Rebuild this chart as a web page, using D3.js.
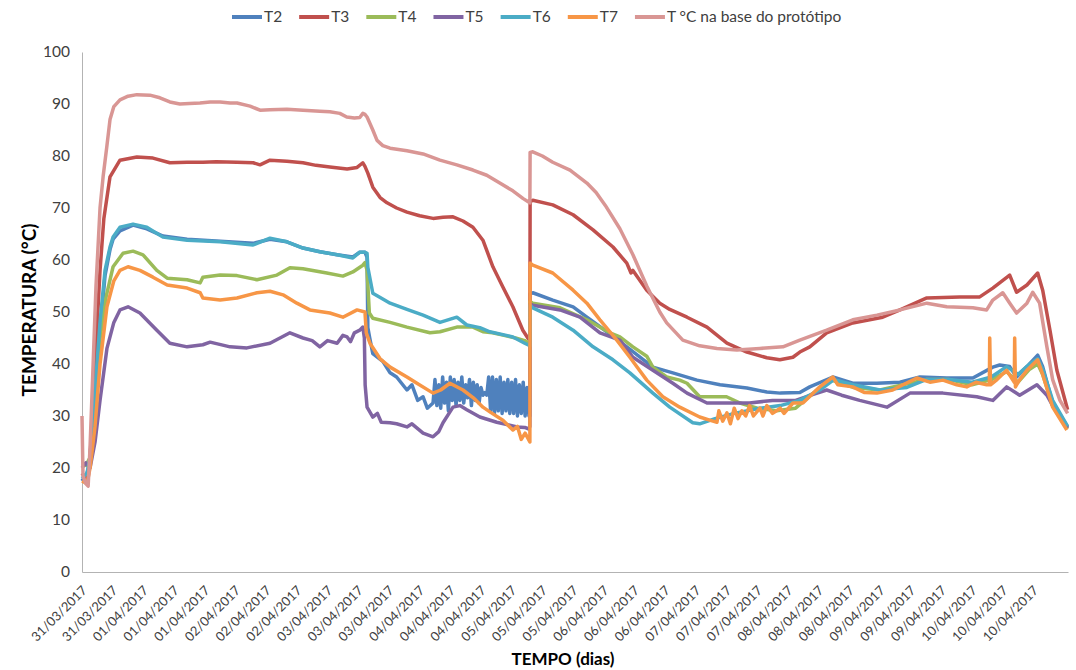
<!DOCTYPE html>
<html>
<head>
<meta charset="utf-8">
<script src="https://cdn.jsdelivr.net/npm/d3@7"></script>
<style>
  body { margin: 0; background: #fff; }
  svg text { font-family: Lato, "Open Sans", sans-serif; }
</style>
</head>
<body>
<div id="chart"></div>
<script>
// readings are [hours since start, temperature in °C]
const t2 = [[0,17.5],[1.3,19],[2.1,21],[3.4,33],[4.7,46],[6,57],[7.3,62],[8.1,64],[9.9,65.6],[13.3,66.7],[16.9,66],[21.1,64.6],[27.4,64],[36,63.6],[44.6,63.2],[49,64],[53.4,63.5],[57.6,62.3],[62,61.6],[66.5,61],[70.6,60.6],[72.4,61.5],[73.75,61.5],[74.3,60.5],[74.5,47],[75,45],[75.8,42],[78.4,40.5],[80.3,38.3],[82,37.5],[84.7,35],[86,36],[87.5,33],[88.9,33.7],[90,31.5],[91.5,32.5],
  [92,37],[92.5,32],[93,36],[93.5,31.5],[94,37.5],[94.5,32.5],[95,36.5],[95.5,31],[96,37.5],[96.5,33],[97,37],[97.5,32],[98,36.5],[98.5,33],[99,37.5],[99.5,32.5],[100,36],[100.5,33.5],[101,37],[101.5,32],[102,36.5],[102.5,33],[103,36],[103.5,32.5],[104,35.5],[104.5,34],[105,34.5],[105.5,34],[106,37.5],[106.5,31],[107,37.5],[107.5,30.5],[108,37],[108.5,31],[109,37.5],[109.5,30.5],[110,36.5],[110.5,31],[111,37],[111.5,30.5],[112,36.5],[112.5,30.5],[113,37],[113.5,30],[114,36],[114.5,30.5],[115,36.5],[115.5,30],[116,35.5],[116.5,30],
  [116.74,30],[116.8,53.5],[117.5,53.7],[122.7,52.3],[128,51],[131.6,49],[136.8,46.2],[142,43.3],[148.8,39.4],[154,38.3],[160.3,36.9],[166.3,36],[173.3,35.4],[178.5,34.6],[182,34.4],[187.1,34.5],[189.7,35.6],[195.7,37.5],[200.9,36.3],[207.2,36.3],[213.2,36.5],[218.4,37.5],[225.4,37.3],[232.2,37.3],[237.4,39.4],[239.2,39.8],[241.8,39.5],[243.6,37.5],[246.3,39.5],[249.1,41.7],[250.4,39.5],[253,32.5],[256.9,27.9]];

const t3 = [[0,19],[1,18],[1.6,18],[2.35,25],[3.4,40],[4.7,58],[5.7,68],[7.3,76],[9.9,79.2],[14.3,79.8],[18.5,79.6],[22.9,78.7],[27.4,78.8],[31.5,78.8],[35,78.9],[40.4,78.8],[44.6,78.7],[46.4,78.3],[49,79.2],[53.4,79],[57.6,78.7],[61,78.2],[64.6,77.9],[69.1,77.5],[71.7,77.8],[73.2,78.7],[73.75,78],[74.5,76.7],[75.8,74],[77.7,72],[79.5,71],[82,70],[84.7,69.2],[88,68.5],[91.5,68],[94.1,68.2],[96.7,68.3],[99.3,67.5],[101.9,66.3],[104.5,63.8],[107.1,58.7],[109.7,54.8],[112.3,51],[114.9,46.5],[116.2,45],[116.74,44.5],
  [116.8,71.2],[117.5,71.5],[122.7,70.6],[128,68.7],[133.2,65.8],[138.4,62.5],[142,59.4],[143.1,57.5],[143.6,58],[147.2,54.2],[150.6,51.7],[153.2,50.5],[157.7,49],[162.9,47.1],[168.1,44],[173.3,42.3],[178.5,41.2],[181.9,40.8],[185.3,41.3],[187.1,42.3],[189.7,43.3],[194.1,46],[200.9,47.9],[208.7,49],[213.2,50.4],[220.2,52.7],[228.8,52.9],[234,52.9],[237.4,54.6],[241.8,57.1],[243.6,53.8],[246.3,55.2],[249.1,57.5],[250.4,54.2],[252.3,46.5],[254.1,38.8],[256.9,31.2]];

const t4 = [[0,21],[1,20.5],[2.1,22],[3.4,32],[4.7,45],[6.3,53],[8.1,58.7],[10.7,61.3],[13.3,61.7],[15.9,61],[19.5,58],[22.2,56.5],[27.4,56.2],[30.8,55.6],[31.5,56.7],[36,57.1],[40.4,57],[45.6,56.2],[50.8,57.1],[54.2,58.5],[57.6,58.3],[63.8,57.5],[68,56.9],[70.6,57.7],[73.2,59],[73.75,59.5],[74.3,58],[74.9,49.8],[75.8,48.8],[80.3,48],[84.7,47.1],[90.7,46],[93.3,46.2],[97.7,47.1],[101.9,47.1],[104.5,46.2],[107,46],[110,45.5],[113,45],[115.4,44.5],[116.5,44],[116.74,44],
  [116.8,52],[117.5,51.7],[124.6,50.8],[131.6,48.5],[137.6,46],[140.2,45.2],[143.6,43.3],[147.2,41.5],[148.8,39.4],[152.4,37.5],[155.8,36.9],[157.7,36.3],[161,33.7],[162.9,33.7],[168,33.7],[171.5,32.5],[176,31.5],[181,31],[186,31.5],[190,34],[195,37],[201,35.5],[208,35],[214,36],[220,37],[226,37],[232,36],[237,37],[241,38.5],[244,36.5],[247,39],[249.1,40],[250.4,38],[253,32],[256.9,27.5]];

const t5 = [[0,20],[1,21],[2.1,20],[3.4,25],[4.7,33],[6.5,43],[8.3,48],[9.9,50.4],[12,51],[15.1,49.8],[19.5,46.5],[22.9,44],[27.4,43.3],[31.5,43.7],[33.4,44.2],[38.6,43.3],[43,43.1],[49,44],[54.2,46],[57.6,45],[60,44.5],[62,43.3],[64,44.5],[66.5,44],[68,45.5],[69.1,45.2],[70,44.3],[71,46],[72.4,46.5],[73.2,47.1],[73.6,45],[73.8,36],[74.3,31.7],[75.8,29.8],[77,30.5],[78,28.8],[80.3,28.7],[82,28.5],[84.7,27.9],[86,28.5],[88.9,26.7],[91.5,26],[93,27],[94.1,28.7],[96.7,31.7],[98.5,32],[100.3,31.2],[103.7,29.8],[108.1,28.8],[113.4,27.9],[115.4,27.8],[116.5,27.5],[116.74,28],
  [116.8,51.5],[117.5,51.3],[124.6,50.4],[129.8,49],[135,46],[140.2,44.6],[143.6,41.3],[148.8,38.8],[154,36.3],[157.7,34.4],[162.9,32.5],[168,32.5],[174,32.5],[180,33],[186,33],[190,34],[194.1,35],[198,34],[202.7,33],[209.8,31.7],[215.8,34.4],[224.4,34.4],[233.2,33.7],[237.4,33],[241,35.6],[244.4,34],[248.9,36],[251.5,34],[253,32],[256.9,27.7]];

const t6 = [[0,18],[1.3,19],[2.1,22],[3.4,35],[4.7,48],[6,58],[7.3,62.5],[8.1,64.4],[9.9,66.3],[13.3,66.9],[16.9,66.3],[21.1,64.4],[27.4,63.8],[36,63.5],[44.6,62.9],[49,64.2],[53.4,63.5],[57.6,62.3],[62,61.6],[66.5,61],[70.6,60.4],[72.4,61.5],[73.75,61.5],[74.3,61.3],[74.5,58.6],[75.8,53.6],[78.4,52.5],[80.3,51.7],[84.7,50.5],[88.9,49.4],[93.3,48],[97.7,49],[100.3,47.5],[103.7,47],[106.3,46.2],[112.3,45.2],[115.4,44],[116.74,43.5],
  [116.8,51.3],[117.5,50.8],[122.7,49],[128,46.5],[133.2,43.3],[138.4,40.8],[142.8,38.3],[148.8,34.4],[153.2,31.7],[159.2,28.7],[161,28.5],[165,29.5],[170,30.5],[176.7,31.5],[182,32],[187,33],[192.3,35],[196,37],[201,36],[208,35],[215,35.5],[220,37],[226,37],[232,36.5],[237,37.5],[241,39.5],[244,38],[247,40],[249.1,41],[250.4,39],[253,33],[256.9,28]];

const t7 = [[0,17.5],[1.3,17],[2.1,20],[3.4,28],[4.7,40],[6.5,51],[8.3,56],[9.9,58],[12,58.7],[15.1,58],[18.5,56.7],[22.2,55.2],[27.4,54.6],[30.8,53.7],[31.5,52.7],[36,52.3],[40.4,52.7],[45.6,53.7],[49,54],[52.4,53.3],[56,51.7],[59.4,50.4],[64.6,49.8],[68,49],[71.7,50.4],[73.75,50],[74.1,46],[75.05,44],[77.7,41],[80.3,39.4],[84.7,37.5],[87.3,36.3],[91.5,34.4],[93.5,35],[95.9,36.3],[99.3,35],[102,33.5],[104.5,31.7],[106.5,30.7],[109.7,29.2],[112.3,27.3],[113.5,28],[114.5,25.5],[115.5,26.7],[116.74,25],
  [116.8,59.4],[117.5,59],[122.7,57.5],[128,54.2],[131.6,51.7],[135,48.5],[139.4,44.6],[142.8,41.3],[147.2,36.9],[151.4,33.7],[155.8,31.7],[161,29.8],[163.6,29.2],[165.5,28.8],[166,31],[167,29],[168.1,30.6],[169,28.5],[170,31.5],[171,29.5],[172,31],[173,30],[174,32],[175,30],[176.7,31.5],[177.5,30],[178.5,32],[180,30.5],[182,31.5],[183,30.5],[185.3,32.5],[187.9,32.5],[190,34],[192.3,35.6],[195.7,37.5],[197,36],[200.9,35.6],[204,34.5],[207.2,34.4],[211.3,35],[214,36],[217.6,37.3],[221,36.5],[224.4,36.9],[228,36],[230.6,35.6],[233,36.5],[235.8,36],[236.5,36],[236.6,45],[236.8,36],[238.5,37],[241,38.8],[243,36.5],[243.1,45],[243.3,35.6],[244.4,37],[246.3,38.8],[249.1,40.8],[250.4,38],[253,31.7],[256.7,27.3]];

const tBase = [[0,30],[0.26,18.5],[1,17],[1.6,16.5],[2.1,24],[2.9,40],[3.65,55],[4.7,70],[5.5,76],[6.5,82],[7.3,87],[8.3,89.5],[9.9,90.8],[12,91.5],[14.3,91.8],[17.7,91.7],[20.3,91.2],[22.9,90.4],[25.5,90],[28,90.1],[30.75,90.2],[33.4,90.4],[36,90.4],[38.6,90.2],[40.4,90.2],[43.8,89.6],[46.4,88.8],[49,88.9],[53.4,89],[57.6,88.8],[62,88.6],[64.6,88.5],[67.2,88.2],[69,87.5],[71,87.3],[72.4,87.4],[73.2,88.2],[73.75,88],[74.3,87.5],[75.8,85],[76.9,83],[78.4,82],[80.3,81.5],[84.7,81],[88.9,80.4],[93.3,79.2],[97.7,78.3],[101.9,77.3],[105.5,76.3],[108.9,74.8],[112.3,73.3],[115,71.8],[116.3,71.2],[116.74,71],
  [116.8,80.7],[117.5,80.8],[120,80],[122.7,78.8],[127.2,77.3],[131.6,74.8],[134,73],[136.4,70.5],[140.2,66],[143.6,61],[147.2,55],[150.6,50],[152.4,47.9],[156.6,44.6],[161,43.5],[165.5,43],[170.7,42.7],[176.7,43],[182.7,43.3],[187.1,44.6],[194.1,46.5],[200.9,48.5],[207.2,49.4],[213.2,50.4],[220.2,51.7],[225.4,51],[232.2,50.8],[235.8,50.4],[237.4,52.3],[240,53.7],[242,51.5],[243.6,49.8],[246.3,51.7],[247.8,53.8],[249.6,51.7],[251.5,43.3],[253,37],[254.9,33],[256.9,30.5]];

const seriesNames = ["T2", "T3", "T4", "T5", "T6", "T7", "T °C na base do protótipo"];
const seriesData = [t2, t3, t4, t5, t6, t7, tBase];
const seriesColors = ["#4F81BD", "#C0504D", "#9BBB59", "#8064A2", "#4BACC6", "#F79646", "#D99694"];

const dateLabels = ["31/03/2017", "31/03/2017",
    "01/04/2017", "01/04/2017", "01/04/2017", "02/04/2017", "02/04/2017", "02/04/2017",
    "03/04/2017", "03/04/2017", "03/04/2017", "04/04/2017", "04/04/2017", "04/04/2017",
    "05/04/2017", "05/04/2017", "05/04/2017", "06/04/2017", "06/04/2017", "06/04/2017",
    "07/04/2017", "07/04/2017", "07/04/2017", "08/04/2017", "08/04/2017", "08/04/2017",
    "09/04/2017", "09/04/2017", "09/04/2017", "10/04/2017", "10/04/2017", "10/04/2017"];
const labelStepHours = 8;
const lastHour = 257;
const yTicks = [0, 10, 20, 30, 40, 50, 60, 70, 80, 90, 100];

const width = 1076, height = 670;
const margin = {top: 52, right: 8, bottom: 98, left: 82};

const svg = d3.select("#chart").append("svg")
    .attr("width", width)
    .attr("height", height);

let x = d3.scaleLinear().domain([0, lastHour]).range([margin.left, width - margin.right]);
let y = d3.scaleLinear().domain([0, 100]).range([height - margin.bottom, margin.top]);

// x axis
let xAxis = svg.append("g")
    .attr("transform", "translate(0," + (height - margin.bottom) + ")")
    .call(d3.axisBottom(x)
        .tickValues(dateLabels.map((d, i) => i * labelStepHours))
        .tickFormat((d, i) => dateLabels[i])
        .tickSize(0).tickSizeOuter(0));
xAxis.select(".domain").attr("stroke", "#b3b3b3");
xAxis.selectAll("text")
    .attr("x", 0).attr("y", 0).attr("dy", "0.35em")
    .attr("transform", "translate(2,16) rotate(-45)")
    .style("text-anchor", "end")
    .style("font-size", "13px")
    .attr("fill", "#404040");

// y axis
let yAxis = svg.append("g")
    .attr("transform", "translate(" + margin.left + ",0)")
    .call(d3.axisLeft(y).tickValues(yTicks).tickSize(0).tickSizeOuter(0).tickPadding(12));
yAxis.select(".domain").attr("stroke", "#b3b3b3");
yAxis.selectAll("text").style("font-size", "15.5px").attr("fill", "#404040");

// axis titles
svg.append("text")
    .attr("transform", "translate(29," + (y(50) - 2) + ") rotate(-90)")
    .attr("text-anchor", "middle")
    .attr("dy", "0.35em")
    .style("font-size", "19px").style("font-weight", "bold")
    .text("TEMPERATURA (°C)");

svg.append("text")
    .attr("x", 563).attr("y", 665)
    .attr("text-anchor", "middle")
    .style("font-size", "17px").style("font-weight", "bold")
    .text("TEMPO (dias)");

// lines
let line = d3.line().x(d => x(d[0])).y(d => y(d[1]));
svg.append("g").selectAll("path")
    .data(seriesData)
    .enter().append("path")
    .attr("d", line)
    .attr("fill", "none")
    .attr("stroke", (d, i) => seriesColors[i])
    .attr("stroke-width", 3.5)
    .attr("stroke-linejoin", "round");

// legend
let legend = svg.append("g").attr("transform", "translate(0,17)");
let lx = 232;
seriesNames.forEach((name, i) => {
    legend.append("line")
        .attr("x1", lx).attr("x2", lx + 30)
        .attr("y1", 0).attr("y2", 0)
        .attr("stroke", seriesColors[i]).attr("stroke-width", 4);
    let t = legend.append("text")
        .attr("x", lx + 32).attr("y", 0).attr("dy", "0.35em")
        .style("font-size", "15.5px").attr("fill", "#404040")
        .text(name);
    lx += 32 + t.node().getComputedTextLength() + 17;
});
</script>
</body>
</html>
